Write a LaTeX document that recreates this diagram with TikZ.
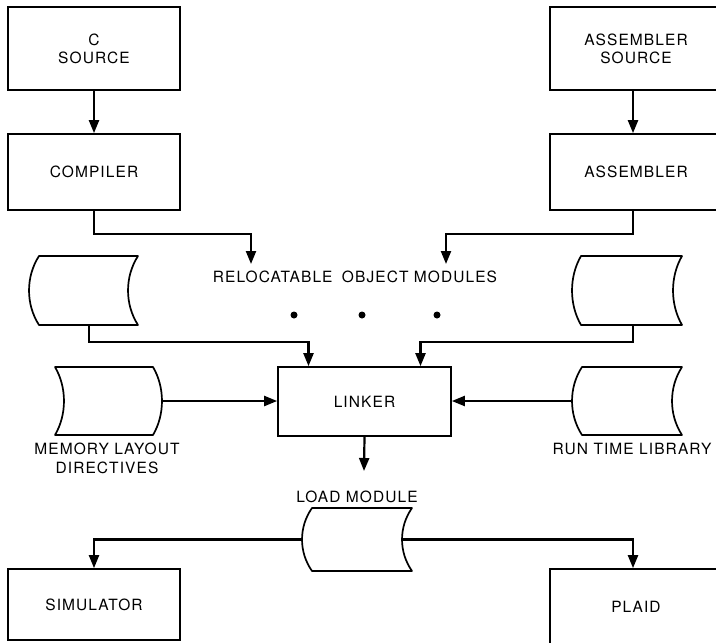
\documentclass[tikz,border=0pt]{standalone}
\usepackage{fontspec}
\setmainfont[LetterSpace=7]{TeX Gyre Heros}
\usetikzlibrary{arrows.meta,calc}
\tikzset{
  box/.style={draw,line width=1.7pt,minimum width=172pt,inner sep=0pt,align=center,font=\fontsize{15.5}{18}\selectfont},
  lbl/.style={inner sep=0pt,align=center,font=\fontsize{15.5}{19}\selectfont},
  disk/.style={draw,line width=1.7pt,line join=round},
  conn/.style={line width=2.2pt},
  arr/.style={conn,-{Triangle[length=13pt,width=10pt]}},
}
\newcommand\drawDiskA[6]{% name, x1, x2, ytop, ybot, depth : left convex, right concave
  \draw[disk] (#2,#4) -- (#3,#4)
    .. controls ({#3-1.33*#6},{#4+0.3*(#5-#4)}) and ({#3-1.33*#6},{#5-0.3*(#5-#4)}) .. (#3,#5)
    -- (#2,#5)
    .. controls ({#2-1.33*#6},{#5-0.3*(#5-#4)}) and ({#2-1.33*#6},{#4+0.3*(#5-#4)}) .. cycle;
  \coordinate (#1-w) at ({#2-#6},{(#4+#5)/2});
  \coordinate (#1-e) at ({#3-#6},{(#4+#5)/2});
}
\newcommand\drawDiskB[6]{% left concave, right convex
  \draw[disk] (#2,#4) -- (#3,#4)
    .. controls ({#3+1.33*#6},{#4+0.3*(#5-#4)}) and ({#3+1.33*#6},{#5-0.3*(#5-#4)}) .. (#3,#5)
    -- (#2,#5)
    .. controls ({#2+1.33*#6},{#5-0.3*(#5-#4)}) and ({#2+1.33*#6},{#4+0.3*(#5-#4)}) .. cycle;
  \coordinate (#1-w) at ({#2+#6},{(#4+#5)/2});
  \coordinate (#1-e) at ({#3+#6},{(#4+#5)/2});
}
\begin{document}
\begin{tikzpicture}[x=1pt,y=-1pt]
\useasboundingbox (0,0) rectangle (716,643);
% boxes
\node[box,minimum height=83pt] (csrc) at (94,48.5) {C\\SOURCE};
\node[box,minimum height=76pt] (comp) at (94,172) {COMPILER};
\node[box,minimum height=83pt] (asrc) at (636,48.5) {ASSEMBLER\\SOURCE};
\node[box,minimum height=76pt] (asm) at (636,172) {ASSEMBLER};
\node[box,minimum width=173pt,minimum height=69pt] (link) at (364.5,401.5) {LINKER};
\node[box,minimum height=71pt] (sim) at (94,604.5) {SIMULATOR};
\node[box,minimum height=76pt] (plaid) at (636,607) {PLAID};
% labels
\node[lbl] (rom) at (355,277) {RELOCATABLE\hspace{4pt} OBJECT MODULES};
\node[lbl] (mem) at (107,458.5) {MEMORY LAYOUT\\DIRECTIVES};
\node[lbl] (rtl) at (632,449) {RUN TIME LIBRARY};
\node[lbl] (lml) at (357,497) {LOAD MODULE};
% dots
\foreach \x/\n in {294/d1,362/d2,437/d3}
  \node[circle,fill,inner sep=0pt,minimum size=7pt] (\n) at (\x,315) {};
% disks
\drawDiskA{rd1}{39}{138}{256}{325}{10}
\drawDiskA{rd2}{581}{682}{256}{325}{9}
\drawDiskB{md}{55}{153}{367}{435}{9}
\drawDiskA{rt}{582}{682}{367}{435}{10}
\drawDiskA{lm}{312}{412}{508}{571}{10}
\coordinate (rd1-s) at (89,325);
\coordinate (rd2-s) at (633,325);
\coordinate (relk1) at (251,264);
\coordinate (relk2) at (446,264);
\coordinate (lmtip) at (364,471);
% connectors
\draw[arr] (csrc.south) -- (comp.north);
\draw[arr] ([xshift=-3pt]asrc.south) -- ([xshift=-3pt]asm.north);
\draw[arr] (comp.south) -- ++(0,23) -| (relk1);
\draw[arr] ([xshift=-3pt]asm.south) -- ++(0,23) -| (relk2);
\draw[arr] (rd1-s) -- ++(0,17) -| ([xshift=-56pt]link.north);
\draw[arr] (rd2-s) -- ++(0,17) -| ([xshift=56pt]link.north);
\draw[arr] (md-e) -- (md-e -| link.west);
\draw[arr] (rt-w) -- (rt-w -| link.east);
\draw[arr] (link.south) -- (lmtip);
\draw[arr] (lm-w) -| (sim.north);
\draw[arr] (lm-e) -| ([xshift=-3pt]plaid.north);
\end{tikzpicture}
\end{document}
